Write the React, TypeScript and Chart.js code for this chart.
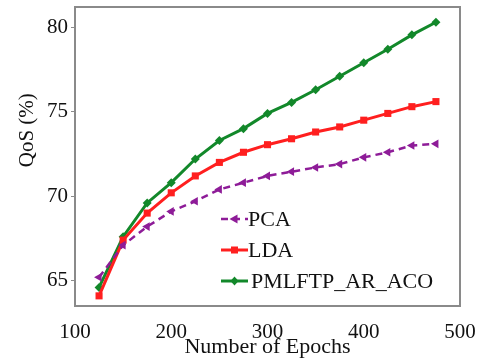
import React, { useEffect, useRef } from "react";
import { Chart, registerables } from "chart.js";

Chart.register(...registerables);

// ---- data ----
const epochs = [125, 150, 175, 200, 225, 250, 275, 300, 325, 350, 375, 400, 425, 450, 475];
const pcaQoS = [65.2, 67.1, 68.2, 69.1, 69.7, 70.4, 70.8, 71.2, 71.45, 71.7, 71.9, 72.3, 72.6, 73.0, 73.1];
const ldaQoS = [64.1, 67.4, 69.0, 70.2, 71.2, 72.0, 72.6, 73.05, 73.4, 73.8, 74.1, 74.5, 74.9, 75.3, 75.6];
const acoQoS = [64.6, 67.6, 69.6, 70.8, 72.2, 73.3, 74.0, 74.9, 75.55, 76.3, 77.1, 77.9, 78.7, 79.55, 80.3];
const seriesNames = ["PCA", "LDA", "PMLFTP_AR_ACO"];
const xTickValues = [100, 200, 300, 400, 500];
const yTickValues = [65, 70, 75, 80];
const xTitle = "Number of Epochs";
const yTitle = "QoS (%)";

const FONT = "'Liberation Serif', 'Times New Roman', serif";
const PURPLE = "#8e1c98";
const RED = "#ff1f1f";
const GREEN = "#12882a";

function drawMarker(ctx: CanvasRenderingContext2D, shape: string, cx: number, cy: number, color: string) {
  ctx.save();
  ctx.fillStyle = color;
  ctx.beginPath();
  if (shape === "triLeft") {
    ctx.moveTo(cx - 5, cy);
    ctx.lineTo(cx + 3, cy - 4.5);
    ctx.lineTo(cx + 3, cy + 4.5);
  } else if (shape === "rect") {
    ctx.rect(cx - 3.5, cy - 3.5, 7, 7);
  } else {
    ctx.moveTo(cx, cy - 4.5);
    ctx.lineTo(cx + 4, cy);
    ctx.lineTo(cx, cy + 4.5);
    ctx.lineTo(cx - 4, cy);
  }
  ctx.closePath();
  ctx.fill();
  ctx.restore();
}

const framePlugin = {
  id: "frame",
  afterDraw(chart: any) {
    const { ctx, chartArea } = chart;
    ctx.save();
    ctx.strokeStyle = "#8a8a8a";
    ctx.lineWidth = 2;
    ctx.strokeRect(chartArea.left, chartArea.top, chartArea.right - chartArea.left, chartArea.bottom - chartArea.top);
    ctx.restore();
  },
};

const legendPlugin = {
  id: "insideLegend",
  afterDraw(chart: any) {
    const ctx: CanvasRenderingContext2D = chart.ctx;
    const shapes = ["triLeft", "rect", "diamond"];
    const ys = [219, 250, 281];
    chart.data.datasets.forEach((ds: any, i: number) => {
      const y = ys[i];
      ctx.save();
      ctx.strokeStyle = ds.borderColor;
      ctx.lineWidth = ds.borderWidth;
      ctx.setLineDash(ds.borderDash || []);
      ctx.beginPath();
      ctx.moveTo(221, y);
      ctx.lineTo(248, y);
      ctx.stroke();
      ctx.restore();
      drawMarker(ctx, shapes[i], 234.5, y, ds.borderColor);
      ctx.save();
      ctx.fillStyle = "#111";
      ctx.font = `22px ${FONT}`;
      ctx.textBaseline = "middle";
      ctx.textAlign = "left";
      ctx.fillText(ds.label, i === 2 ? 251 : 248, y + 1);
      ctx.restore();
    });
  },
};

export default function App() {
  const ref = useRef<HTMLCanvasElement>(null);

  useEffect(() => {
    if (!ref.current) return;
    const toPts = (arr: number[]) => epochs.map((e, i) => ({ x: e, y: arr[i] }));
    const chart = new Chart(ref.current, {
      type: "line",
      data: {
        datasets: [
          {
            label: seriesNames[0],
            data: toPts(pcaQoS),
            borderColor: PURPLE,
            backgroundColor: PURPLE,
            borderWidth: 2.5,
            borderDash: [7, 5],
            pointStyle: "triangle",
            rotation: -90,
            pointRadius: 5,
            pointBorderWidth: 0,
            tension: 0,
          },
          {
            label: seriesNames[1],
            data: toPts(ldaQoS),
            borderColor: RED,
            backgroundColor: RED,
            borderWidth: 3,
            pointStyle: "rect",
            pointRadius: 5,
            pointBorderWidth: 0,
            tension: 0,
          },
          {
            label: seriesNames[2],
            data: toPts(acoQoS),
            borderColor: GREEN,
            backgroundColor: GREEN,
            borderWidth: 3,
            pointStyle: "rectRot",
            pointRadius: 4.5,
            pointBorderWidth: 0,
            tension: 0,
          },
        ],
      },
      options: {
        animation: false,
        responsive: false,
        maintainAspectRatio: false,
        layout: { padding: { left: 15, top: 7, right: 26, bottom: 4 } },
        plugins: {
          legend: { display: false },
          tooltip: { enabled: false },
        },
        scales: {
          x: {
            type: "linear",
            min: 100,
            max: 500,
            grid: { display: false },
            border: { display: false },
            ticks: {
              padding: 6,
              color: "#111",
              font: { family: FONT, size: 21 },
            },
            afterBuildTicks: (scale: any) => {
              scale.ticks = xTickValues.map((v) => ({ value: v }));
            },
            afterFit: (scale: any) => {
              scale.height = 54;
              scale.paddingLeft = 0;
              scale.paddingRight = 0;
            },
            title: {
              display: true,
              text: xTitle,
              color: "#111",
              padding: 0,
              font: { family: FONT, size: 22 },
            },
          },
          y: {
            type: "linear",
            min: 63.5,
            max: 81.2,
            grid: {
              display: true,
              drawOnChartArea: false,
              drawTicks: true,
              tickLength: 4,
              color: "#8a8a8a",
            },
            border: { display: false },
            ticks: {
              padding: 3,
              color: "#111",
              font: { family: FONT, size: 21 },
            },
            afterBuildTicks: (scale: any) => {
              scale.ticks = yTickValues.map((v) => ({ value: v }));
            },
            afterFit: (scale: any) => {
              scale.width = 60;
              scale.paddingTop = 0;
              scale.paddingBottom = 0;
            },
            title: {
              display: true,
              text: "          " + yTitle,
              color: "#111",
              padding: 0,
              font: { family: FONT, size: 21 },
            },
          },
        },
      },
      plugins: [framePlugin, legendPlugin],
    });
    return () => chart.destroy();
  }, []);

  return (
    <div style={{ position: "absolute", left: 0, top: 0, width: 486, height: 364, background: "#fff" }}>
      <canvas ref={ref} width={486} height={364} style={{ display: "block" }} />
    </div>
  );
}
